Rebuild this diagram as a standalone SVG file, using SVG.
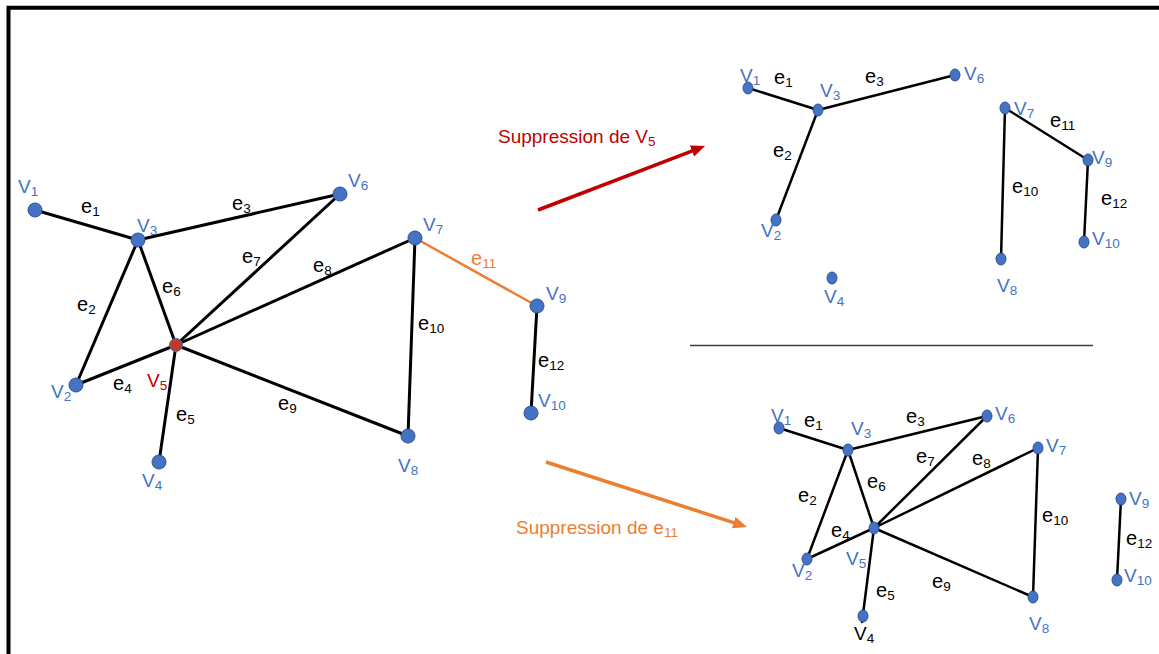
<svg xmlns="http://www.w3.org/2000/svg" width="1159" height="654" viewBox="0 0 1159 654">
<style>
text{font-family:"Liberation Sans",Arial,sans-serif}
.v{font-size:19px;fill:#4472C4}
.e{font-size:20px;fill:#000}
.s{font-size:13.5px}
.ed{stroke:#000;stroke-width:3;fill:none;stroke-linecap:round}
.ed2{stroke:#000;stroke-width:2.5;fill:none;stroke-linecap:round}
.n{fill:#4472C4;stroke:#2F528F;stroke-width:1}
.nr{fill:#C0392B;stroke:#4472C4;stroke-width:1}
</style>
<defs>
<marker id="ar" markerUnits="userSpaceOnUse" markerWidth="14" markerHeight="12" refX="4" refY="6" orient="auto"><path d="M0,0 L14,6 L0,12 z" fill="#C00000"/></marker>
<marker id="ao" markerUnits="userSpaceOnUse" markerWidth="14" markerHeight="12" refX="4" refY="6" orient="auto"><path d="M0,0 L14,6 L0,12 z" fill="#ED7D31"/></marker>
</defs>
<rect width="1159" height="654" fill="#fff"/>
<path d="M8.5,654 V7.7 H1159" fill="none" stroke="#000" stroke-width="4"/>

<g id="connectors">
<!-- left graph -->
<line class="ed" x1="35" y1="210" x2="138" y2="240"/>
<line class="ed" x1="138" y1="240" x2="340" y2="194"/>
<line class="ed" x1="138" y1="240" x2="76" y2="385"/>
<line class="ed" x1="138" y1="240" x2="176" y2="345"/>
<line class="ed" x1="76" y1="385" x2="176" y2="345"/>
<line class="ed" x1="176" y1="345" x2="159" y2="462"/>
<line class="ed" x1="176" y1="345" x2="340" y2="194"/>
<line class="ed" x1="176" y1="345" x2="415" y2="238"/>
<line class="ed" x1="176" y1="345" x2="408" y2="436"/>
<line class="ed" x1="415" y1="238" x2="408" y2="436"/>
<line x1="415" y1="238" x2="537" y2="306" stroke="#ED7D31" stroke-width="2.5"/>
<line class="ed" x1="537" y1="306" x2="531" y2="413"/>
<!-- top right graph -->
<line class="ed2" x1="748" y1="88" x2="818" y2="110"/>
<line class="ed2" x1="818" y1="110" x2="955" y2="75"/>
<line class="ed2" x1="818" y1="110" x2="776" y2="220"/>
<line class="ed2" x1="1005" y1="108" x2="1001" y2="259"/>
<line class="ed2" x1="1005" y1="108" x2="1088" y2="160"/>
<line class="ed2" x1="1088" y1="160" x2="1084" y2="242"/>
<!-- bottom right graph -->
<line class="ed2" x1="779" y1="428" x2="848" y2="450"/>
<line class="ed2" x1="848" y1="450" x2="987" y2="416"/>
<line class="ed2" x1="848" y1="450" x2="807" y2="559"/>
<line class="ed2" x1="848" y1="450" x2="874" y2="528"/>
<line class="ed2" x1="807" y1="559" x2="874" y2="528"/>
<line class="ed2" x1="874" y1="528" x2="862" y2="622"/>
<line class="ed2" x1="874" y1="528" x2="987" y2="416"/>
<line class="ed2" x1="874" y1="528" x2="1038" y2="448"/>
<line class="ed2" x1="874" y1="528" x2="1033" y2="597"/>
<line class="ed2" x1="1038" y1="448" x2="1033" y2="597"/>
<line class="ed2" x1="1121" y1="499" x2="1117" y2="580"/>
<!-- transformation arrows -->
<line x1="538" y1="210" x2="695.7" y2="149.6" stroke="#C00000" stroke-width="3.5" marker-end="url(#ar)"/>
<line x1="546" y1="462" x2="737.5" y2="523.9" stroke="#ED7D31" stroke-width="3.5" marker-end="url(#ao)"/>
<line x1="690" y1="345.5" x2="1093" y2="345.5" stroke="#3f3f3f" stroke-width="1.5"/>
</g>

<!-- left graph nodes -->
<g id="L-v1"><circle class="n" cx="35" cy="210" r="7"/><text class="v" x="18" y="193">V<tspan class="s" dy="3">1</tspan></text></g>
<g id="L-v2"><circle class="n" cx="76" cy="385" r="7"/><text class="v" x="51" y="398">V<tspan class="s" dy="3">2</tspan></text></g>
<g id="L-v3"><circle class="n" cx="138" cy="240" r="7"/><text class="v" x="137" y="232">V<tspan class="s" dy="3">3</tspan></text></g>
<g id="L-v4"><circle class="n" cx="159" cy="462" r="7"/><text class="v" x="142" y="487">V<tspan class="s" dy="3">4</tspan></text></g>
<g id="L-v5"><circle class="nr" cx="176" cy="345" r="6.5"/><text class="v" x="147" y="387" style="fill:#C00000">V<tspan class="s" dy="3">5</tspan></text></g>
<g id="L-v6"><circle class="n" cx="340" cy="194" r="7"/><text class="v" x="348" y="187">V<tspan class="s" dy="3">6</tspan></text></g>
<g id="L-v7"><circle class="n" cx="415" cy="238" r="7"/><text class="v" x="423" y="231">V<tspan class="s" dy="3">7</tspan></text></g>
<g id="L-v8"><circle class="n" cx="408" cy="436" r="7"/><text class="v" x="398" y="472">V<tspan class="s" dy="3">8</tspan></text></g>
<g id="L-v9"><circle class="n" cx="537" cy="306" r="7"/><text class="v" x="546" y="300">V<tspan class="s" dy="3">9</tspan></text></g>
<g id="L-v10"><circle class="n" cx="531" cy="413" r="7"/><text class="v" x="538" y="407">V<tspan class="s" dy="3">10</tspan></text></g>
<g id="L-edge-labels">
<text class="e" x="81" y="213">e<tspan class="s" dy="3">1</tspan></text>
<text class="e" x="77" y="311">e<tspan class="s" dy="3">2</tspan></text>
<text class="e" x="232" y="210">e<tspan class="s" dy="3">3</tspan></text>
<text class="e" x="113" y="390">e<tspan class="s" dy="3">4</tspan></text>
<text class="e" x="176" y="421">e<tspan class="s" dy="3">5</tspan></text>
<text class="e" x="162" y="293">e<tspan class="s" dy="3">6</tspan></text>
<text class="e" x="242" y="263">e<tspan class="s" dy="3">7</tspan></text>
<text class="e" x="313" y="272">e<tspan class="s" dy="3">8</tspan></text>
<text class="e" x="278" y="410">e<tspan class="s" dy="3">9</tspan></text>
<text class="e" x="418" y="330">e<tspan class="s" dy="3">10</tspan></text>
<text class="e" x="471" y="265" style="fill:#ED7D31">e<tspan class="s" dy="3">11</tspan></text>
<text class="e" x="538" y="367">e<tspan class="s" dy="3">12</tspan></text>
</g>

<!-- arrow labels -->
<g id="lbl-v5"><text x="498" y="143" style="font-size:19px;fill:#C00000">Suppression de V<tspan class="s" dy="3">5</tspan></text></g>
<g id="lbl-e11"><text x="516" y="534" style="font-size:19px;fill:#ED7D31">Suppression de e<tspan class="s" dy="3">11</tspan></text></g>

<!-- top right graph -->
<g id="A-v1"><ellipse class="n" cx="748" cy="88" rx="5" ry="6"/><text class="v" x="740" y="82">V<tspan class="s" dy="3">1</tspan></text></g>
<g id="A-v2"><ellipse class="n" cx="776" cy="220" rx="5" ry="6"/><text class="v" x="761" y="237">V<tspan class="s" dy="3">2</tspan></text></g>
<g id="A-v3"><ellipse class="n" cx="818" cy="110" rx="5" ry="6"/><text class="v" x="820" y="97">V<tspan class="s" dy="3">3</tspan></text></g>
<g id="A-v4"><ellipse class="n" cx="832" cy="278" rx="5" ry="6"/><text class="v" x="824" y="303">V<tspan class="s" dy="3">4</tspan></text></g>
<g id="A-v6"><ellipse class="n" cx="955" cy="75" rx="5" ry="6"/><text class="v" x="964" y="80">V<tspan class="s" dy="3">6</tspan></text></g>
<g id="A-v7"><ellipse class="n" cx="1005" cy="108" rx="5" ry="6"/><text class="v" x="1014" y="115">V<tspan class="s" dy="3">7</tspan></text></g>
<g id="A-v8"><ellipse class="n" cx="1001" cy="259" rx="5" ry="6"/><text class="v" x="997" y="292">V<tspan class="s" dy="3">8</tspan></text></g>
<g id="A-v9"><ellipse class="n" cx="1088" cy="160" rx="5" ry="6"/><text class="v" x="1092" y="164">V<tspan class="s" dy="3">9</tspan></text></g>
<g id="A-v10"><ellipse class="n" cx="1084" cy="242" rx="5" ry="6"/><text class="v" x="1092" y="245">V<tspan class="s" dy="3">10</tspan></text></g>
<g id="A-edge-labels">
<text class="e" x="774" y="84">e<tspan class="s" dy="3">1</tspan></text>
<text class="e" x="773" y="157">e<tspan class="s" dy="3">2</tspan></text>
<text class="e" x="865" y="83">e<tspan class="s" dy="3">3</tspan></text>
<text class="e" x="1012" y="193">e<tspan class="s" dy="3">10</tspan></text>
<text class="e" x="1050" y="127">e<tspan class="s" dy="3">11</tspan></text>
<text class="e" x="1101" y="205">e<tspan class="s" dy="3">12</tspan></text>
</g>

<!-- bottom right graph -->
<g id="B-v1"><ellipse class="n" cx="779" cy="428" rx="5" ry="6"/><text class="v" x="771" y="422">V<tspan class="s" dy="3">1</tspan></text></g>
<g id="B-v2"><ellipse class="n" cx="807" cy="559" rx="5" ry="6"/><text class="v" x="792" y="577">V<tspan class="s" dy="3">2</tspan></text></g>
<g id="B-v3"><ellipse class="n" cx="848" cy="450" rx="5" ry="6"/><text class="v" x="851" y="435">V<tspan class="s" dy="3">3</tspan></text></g>
<g id="B-v4"><ellipse class="n" cx="863" cy="616" rx="5" ry="6"/><text class="v" x="854" y="640" style="fill:#000">V<tspan class="s" dy="3">4</tspan></text></g>
<g id="B-v5"><ellipse class="n" cx="874" cy="528" rx="5" ry="6"/><text class="v" x="846" y="565">V<tspan class="s" dy="3">5</tspan></text></g>
<g id="B-v6"><ellipse class="n" cx="987" cy="416" rx="5" ry="6"/><text class="v" x="995" y="420">V<tspan class="s" dy="3">6</tspan></text></g>
<g id="B-v7"><ellipse class="n" cx="1038" cy="448" rx="5" ry="6"/><text class="v" x="1046" y="452">V<tspan class="s" dy="3">7</tspan></text></g>
<g id="B-v8"><ellipse class="n" cx="1033" cy="597" rx="5" ry="6"/><text class="v" x="1029" y="630">V<tspan class="s" dy="3">8</tspan></text></g>
<g id="B-v9"><ellipse class="n" cx="1121" cy="499" rx="5" ry="6"/><text class="v" x="1129" y="505">V<tspan class="s" dy="3">9</tspan></text></g>
<g id="B-v10"><ellipse class="n" cx="1117" cy="580" rx="5" ry="6"/><text class="v" x="1124" y="582">V<tspan class="s" dy="3">10</tspan></text></g>
<g id="B-edge-labels">
<text class="e" x="804" y="427">e<tspan class="s" dy="3">1</tspan></text>
<text class="e" x="798" y="502">e<tspan class="s" dy="3">2</tspan></text>
<text class="e" x="906" y="423">e<tspan class="s" dy="3">3</tspan></text>
<text class="e" x="831" y="537">e<tspan class="s" dy="3">4</tspan></text>
<text class="e" x="876" y="597">e<tspan class="s" dy="3">5</tspan></text>
<text class="e" x="867" y="488">e<tspan class="s" dy="3">6</tspan></text>
<text class="e" x="916" y="463">e<tspan class="s" dy="3">7</tspan></text>
<text class="e" x="972" y="465">e<tspan class="s" dy="3">8</tspan></text>
<text class="e" x="932" y="588">e<tspan class="s" dy="3">9</tspan></text>
<text class="e" x="1042" y="522">e<tspan class="s" dy="3">10</tspan></text>
<text class="e" x="1126" y="545">e<tspan class="s" dy="3">12</tspan></text>
</g>
</svg>
